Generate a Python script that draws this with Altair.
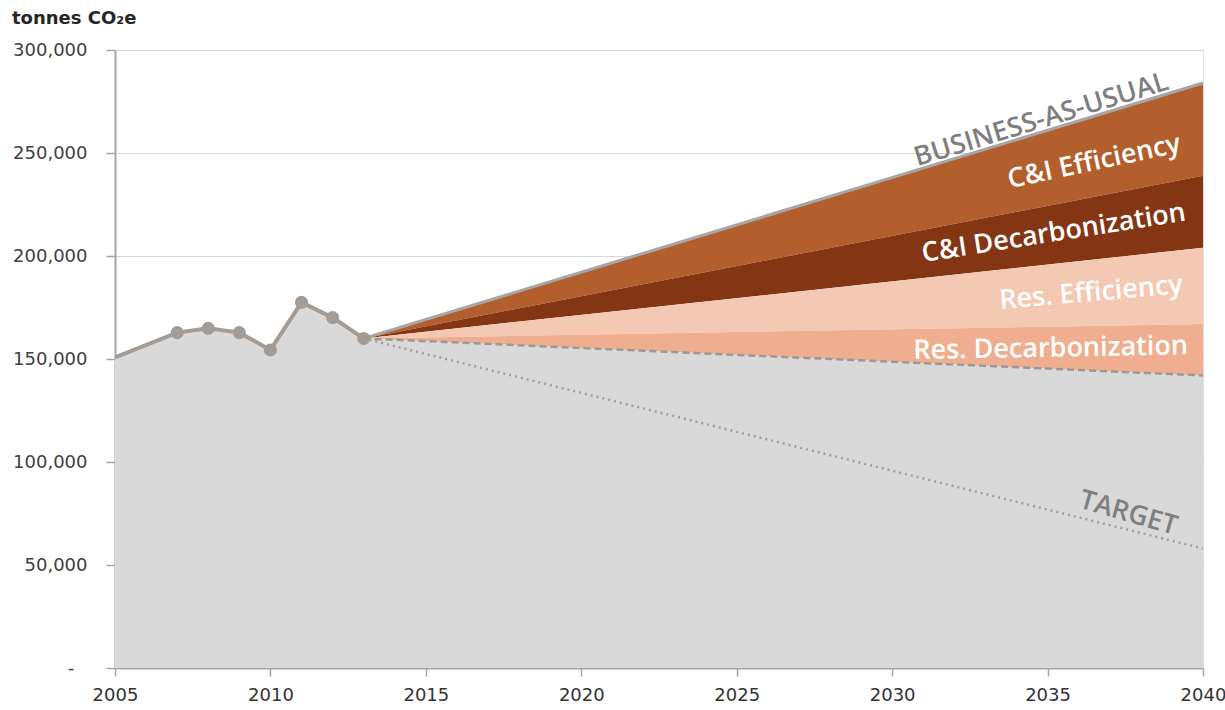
import altair as alt
import pandas as pd

# ---- data ----
hist_years = [2005, 2007, 2008, 2009, 2010, 2011, 2012, 2013]
hist_vals = [150800, 162800, 164900, 162800, 154400, 177500, 170100, 160000]

proj_years = [2013, 2040]
bau = [160000, 284000]
ci_eff_bottom = [160000, 239000]
ci_dec_bottom = [160000, 204000]
res_eff_bottom = [160000, 167000]
res_dec_bottom = [160000, 142000]
target = [160000, 58000]

label_texts = ["BUSINESS-AS-USUAL", "C&I Efficiency", "C&I Decarbonization",
               "Res. Efficiency", "Res. Decarbonization", "TARGET"]
label_years = [2034.8, 2036.5, 2035.2, 2036.4, 2035.1, 2037.6]
label_vals = [266000, 245600, 211000, 182000, 155000, 75000]
label_angles = [343, 348, 351, 355, 359, 16]
label_colors = ["#7f7f7f", "white", "white", "white", "white", "#7f7f7f"]

x_ticks = [2005, 2010, 2015, 2020, 2025, 2030, 2035, 2040]
y_ticks = [0, 50000, 100000, 150000, 200000, 250000, 300000]

# ---- tables ----
hist = pd.DataFrame({"year": hist_years, "v": hist_vals})
gray = pd.DataFrame({"year": hist_years + [proj_years[1]],
                     "v": hist_vals + [res_dec_bottom[1]]})
proj = pd.DataFrame({"year": proj_years, "bau": bau, "cie": ci_eff_bottom,
                     "cid": ci_dec_bottom, "ree": res_eff_bottom,
                     "red": res_dec_bottom, "target": target})
labels = pd.DataFrame({"t": label_texts, "year": label_years, "v": label_vals,
                       "angle": label_angles, "color": label_colors})

xs = alt.Scale(domain=[2005, 2040], nice=False, zero=False)
ys = alt.Scale(domain=[0, 300000], nice=False)

x_axis = alt.Axis(values=x_ticks, format="d", grid=False, tickSize=8,
                  labelPadding=10, labelFontSize=18, labelFont="DejaVu Sans",
                  labelColor="#333333", domainColor="#a6a6a6", tickColor="#a6a6a6",
                  domainWidth=2, tickWidth=1.5, title=None, labelFlush=False)
y_axis = alt.Axis(values=y_ticks, grid=True, gridColor="#d9d9d9", gridWidth=1,
                  tickSize=9, labelPadding=19, labelFontSize=18,
                  labelFont="DejaVu Sans", labelColor="#404040",
                  labelExpr="datum.value == 0 ? '-\u2800' : format(datum.value, ',d')",
                  domainColor="#a6a6a6", tickColor="#a6a6a6", domainWidth=2,
                  tickWidth=1.5, title=None)

gray_area = alt.Chart(gray).mark_area(color="#d9d9d9", opacity=1).encode(
    x=alt.X("year:Q", scale=xs, axis=x_axis),
    y=alt.Y("v:Q", scale=ys, axis=y_axis),
)

base = alt.Chart(proj)
ci_eff = base.mark_area(color="#b35f2d", opacity=1).encode(
    x=alt.X("year:Q", scale=xs), y=alt.Y("bau:Q", scale=ys), y2="cie:Q")
ci_dec = base.mark_area(color="#843614", opacity=1).encode(
    x=alt.X("year:Q", scale=xs), y=alt.Y("cie:Q", scale=ys), y2="cid:Q")
res_eff = base.mark_area(color="#f4c9b3", opacity=1).encode(
    x=alt.X("year:Q", scale=xs), y=alt.Y("cid:Q", scale=ys), y2="ree:Q")
res_dec = base.mark_area(color="#efae8f", opacity=1).encode(
    x=alt.X("year:Q", scale=xs), y=alt.Y("ree:Q", scale=ys), y2="red:Q")

bau_line = base.mark_line(color="#a6a6a6", strokeWidth=3).encode(
    x=alt.X("year:Q", scale=xs), y=alt.Y("bau:Q", scale=ys))
red_line = base.mark_line(color="#9a9a9a", strokeWidth=2.5, strokeDash=[7, 4]).encode(
    x=alt.X("year:Q", scale=xs), y=alt.Y("red:Q", scale=ys))
target_line = base.mark_line(color="#a0a0a0", strokeWidth=2.5, strokeDash=[2, 4]).encode(
    x=alt.X("year:Q", scale=xs), y=alt.Y("target:Q", scale=ys))

hist_line = alt.Chart(hist).mark_line(color="#a39c96", strokeWidth=4).encode(
    x=alt.X("year:Q", scale=xs), y=alt.Y("v:Q", scale=ys))
hist_pts = alt.Chart(hist).transform_filter("datum.year >= 2007").mark_circle(
    color="#a39c96", size=170, opacity=1).encode(
    x=alt.X("year:Q", scale=xs), y=alt.Y("v:Q", scale=ys))

label_layer = alt.Chart(labels).mark_text(
    font="Open Sans", fontSize=27, fontWeight=600, align="center",
    baseline="middle").encode(
    x=alt.X("year:Q", scale=xs), y=alt.Y("v:Q", scale=ys),
    text="t:N", angle=alt.Angle("angle:Q", scale=None),
    color=alt.Color("color:N", scale=None))

chart = alt.layer(
    gray_area, ci_eff, ci_dec, res_eff, res_dec, bau_line, red_line,
    target_line, hist_line, hist_pts, label_layer
).properties(
    width=1088, height=618,
    title=alt.TitleParams("tonnes CO₂e", anchor="start", frame="group",
                          dx=-103, offset=13, fontSize=18, font="DejaVu Sans",
                          fontWeight="bold", color="#262626"),
    autosize=alt.AutoSizeParams(type="none"),
    padding={"left": 115, "top": 50, "right": 22, "bottom": 42},
).configure_view(stroke=None).configure(background="white")

chart.save("out.html", embed_options={"renderer": "svg", "actions": False})
